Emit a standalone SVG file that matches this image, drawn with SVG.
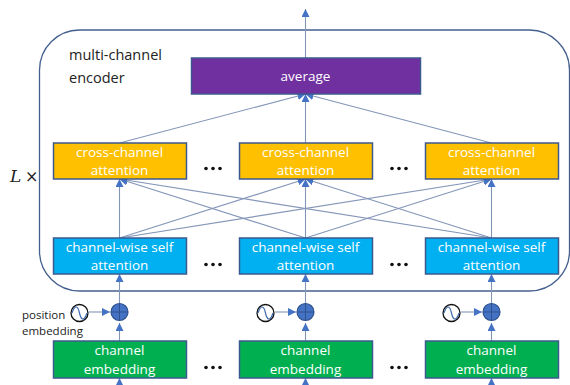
<svg xmlns="http://www.w3.org/2000/svg" width="570" height="385" viewBox="0 0 570 385">
<style>
text{font-family:"Open Sans","Noto Sans",sans-serif;font-size:13.5px}
.w{fill:#fff;text-anchor:middle}
.k{fill:#222}
.b{stroke:#3d5a8f;stroke-width:1.5}
.c{stroke:#8496b8;stroke-width:1.1;fill:none;marker-end:url(#a)}
.n{stroke:#8496b8;stroke-width:1.1;fill:none}
.o{fill:#00b050}.y{fill:#ffc000}.l{fill:#00b0f0}
.d{fill:#111}
</style>
<defs>
<marker id="a" markerUnits="userSpaceOnUse" markerWidth="9" markerHeight="8" refX="8" refY="4" orient="auto"><path d="M0 0L8 4L0 8Z" fill="#4472c4"/></marker>
</defs>
<rect id="frame" x="39.500" y="30" width="530" height="261" rx="40" fill="none" stroke="#44608f" stroke-width="1.300"/>
<g id="connectors">
<path class="c" d="M305.500 58V9"/>
<path class="c" d="M119.500 143L305.500 94"/>
<path class="c" d="M305.500 143V94"/>
<path class="c" d="M491.500 143L305.500 94"/>
<path class="c" d="M119.500 238V179"/>
<path class="c" d="M305.500 238V179"/>
<path class="c" d="M491.500 238V179"/>
<path class="c" d="M119.500 238L305.500 179"/>
<path class="c" d="M119.500 238L491.500 179"/>
<path class="c" d="M305.500 238L119.500 179"/>
<path class="c" d="M305.500 238L491.500 179"/>
<path class="c" d="M491.500 238L119.500 179"/>
<path class="c" d="M491.500 238L305.500 179"/>
<path class="c" d="M119.500 305V274"/>
<path class="c" d="M305.500 305V274"/>
<path class="c" d="M491.500 305V274"/>
<path class="c" d="M119.500 341V323"/>
<path class="c" d="M305.500 341V323"/>
<path class="c" d="M491.500 341V323"/>
<path class="c" d="M89 312H110"/>
<path class="c" d="M275 312H296"/>
<path class="c" d="M461 312H482"/>
<path class="c" d="M119.500 385V378"/>
<path class="c" d="M305.500 385V378"/>
<path class="c" d="M491.500 385V378"/>
</g>
<g id="average"><rect class="b" x="191.500" y="58" width="229" height="36" fill="#7030a0"/><text class="w" x="305.500" y="81">average</text></g>
<g id="cross1"><rect class="b y" x="53.500" y="143" width="133" height="36"/><text class="w" x="119.500" y="157">cross-channel</text><text class="w" x="119.500" y="175">attention</text></g>
<g id="cross2"><rect class="b y" x="239.500" y="143" width="133" height="36"/><text class="w" x="305.500" y="157">cross-channel</text><text class="w" x="305.500" y="175">attention</text></g>
<g id="cross3"><rect class="b y" x="425.500" y="143" width="133" height="36"/><text class="w" x="491.500" y="157">cross-channel</text><text class="w" x="491.500" y="175">attention</text></g>
<g id="self1"><rect class="b l" x="53.500" y="238" width="133" height="36"/><text class="w" x="119.500" y="252">channel-wise self</text><text class="w" x="119.500" y="270">attention</text></g>
<g id="self2"><rect class="b l" x="239.500" y="238" width="133" height="36"/><text class="w" x="305.500" y="252">channel-wise self</text><text class="w" x="305.500" y="270">attention</text></g>
<g id="self3"><rect class="b l" x="425.500" y="238" width="133" height="36"/><text class="w" x="491.500" y="252">channel-wise self</text><text class="w" x="491.500" y="270">attention</text></g>
<g id="embed1"><rect class="b o" x="53.500" y="341" width="133" height="37"/><text class="w" x="119.500" y="355">channel</text><text class="w" x="119.500" y="374">embedding</text></g>
<g id="embed2"><rect class="b o" x="239.500" y="341" width="133" height="37"/><text class="w" x="305.500" y="355">channel</text><text class="w" x="305.500" y="374">embedding</text></g>
<g id="embed3"><rect class="b o" x="425.500" y="341" width="133" height="37"/><text class="w" x="491.500" y="355">channel</text><text class="w" x="491.500" y="374">embedding</text></g>
<g id="add1"><circle cx="119.500" cy="312" r="8.500" fill="#4472c4" stroke="#2f528f" stroke-width="1.200"/><path d="M111 312H128M119.500 303.500V320.500" stroke="#2f528f"/></g>
<g id="add2"><circle cx="305.500" cy="312" r="8.500" fill="#4472c4" stroke="#2f528f" stroke-width="1.200"/><path d="M297 312H314M305.500 303.500V320.500" stroke="#2f528f"/></g>
<g id="add3"><circle cx="491.500" cy="312" r="8.500" fill="#4472c4" stroke="#2f528f" stroke-width="1.200"/><path d="M483 312H500M491.500 303.500V320.500" stroke="#2f528f"/></g>
<g id="wave1"><circle cx="79.500" cy="313" r="8.500" fill="#fff" stroke="#111" stroke-width="1.300"/><path d="M72 313C75 304 78 306 79.500 313S84 322 87 313" fill="none" stroke="#3f69b0" stroke-width="1.200"/></g>
<g id="wave2"><circle cx="265.500" cy="313" r="8.500" fill="#fff" stroke="#111" stroke-width="1.300"/><path d="M258 313C261 304 264 306 265.500 313S270 322 273 313" fill="none" stroke="#3f69b0" stroke-width="1.200"/></g>
<g id="wave3"><circle cx="451.500" cy="313" r="8.500" fill="#fff" stroke="#111" stroke-width="1.300"/><path d="M444 313C447 304 450 306 451.500 313S456 322 459 313" fill="none" stroke="#3f69b0" stroke-width="1.200"/></g>
<g id="dots">
<g class="d"><circle cx="206" cy="168.500" r="1.800"/><circle cx="213" cy="168.500" r="1.800"/><circle cx="220" cy="168.500" r="1.800"/>
<circle cx="392" cy="168.500" r="1.800"/><circle cx="399" cy="168.500" r="1.800"/><circle cx="406" cy="168.500" r="1.800"/>
<circle cx="206" cy="264.500" r="1.800"/><circle cx="213" cy="264.500" r="1.800"/><circle cx="220" cy="264.500" r="1.800"/>
<circle cx="392" cy="264.500" r="1.800"/><circle cx="399" cy="264.500" r="1.800"/><circle cx="406" cy="264.500" r="1.800"/>
<circle cx="206" cy="367.500" r="1.800"/><circle cx="213" cy="367.500" r="1.800"/><circle cx="220" cy="367.500" r="1.800"/>
<circle cx="392" cy="367.500" r="1.800"/><circle cx="399" cy="367.500" r="1.800"/><circle cx="406" cy="367.500" r="1.800"/></g>
</g>
<g id="labels">
<text class="k" x="69" y="60" style="font-size:14.500px">multi-channel</text>
<text class="k" x="69" y="83" style="font-size:14.500px">encoder</text>
<text class="k" x="22" y="319" style="font-size:11.500px">position</text>
<text class="k" x="22" y="335" style="font-size:11.500px">embedding</text>
<text x="10" y="182" style="font-family:'DejaVu Serif','Liberation Serif',serif;font-style:italic;font-size:17px" fill="#222">L</text>
<text x="25" y="182" style="font-family:'DejaVu Serif','Liberation Serif',serif;font-size:16px" fill="#222">×</text>
</g>
</svg>
